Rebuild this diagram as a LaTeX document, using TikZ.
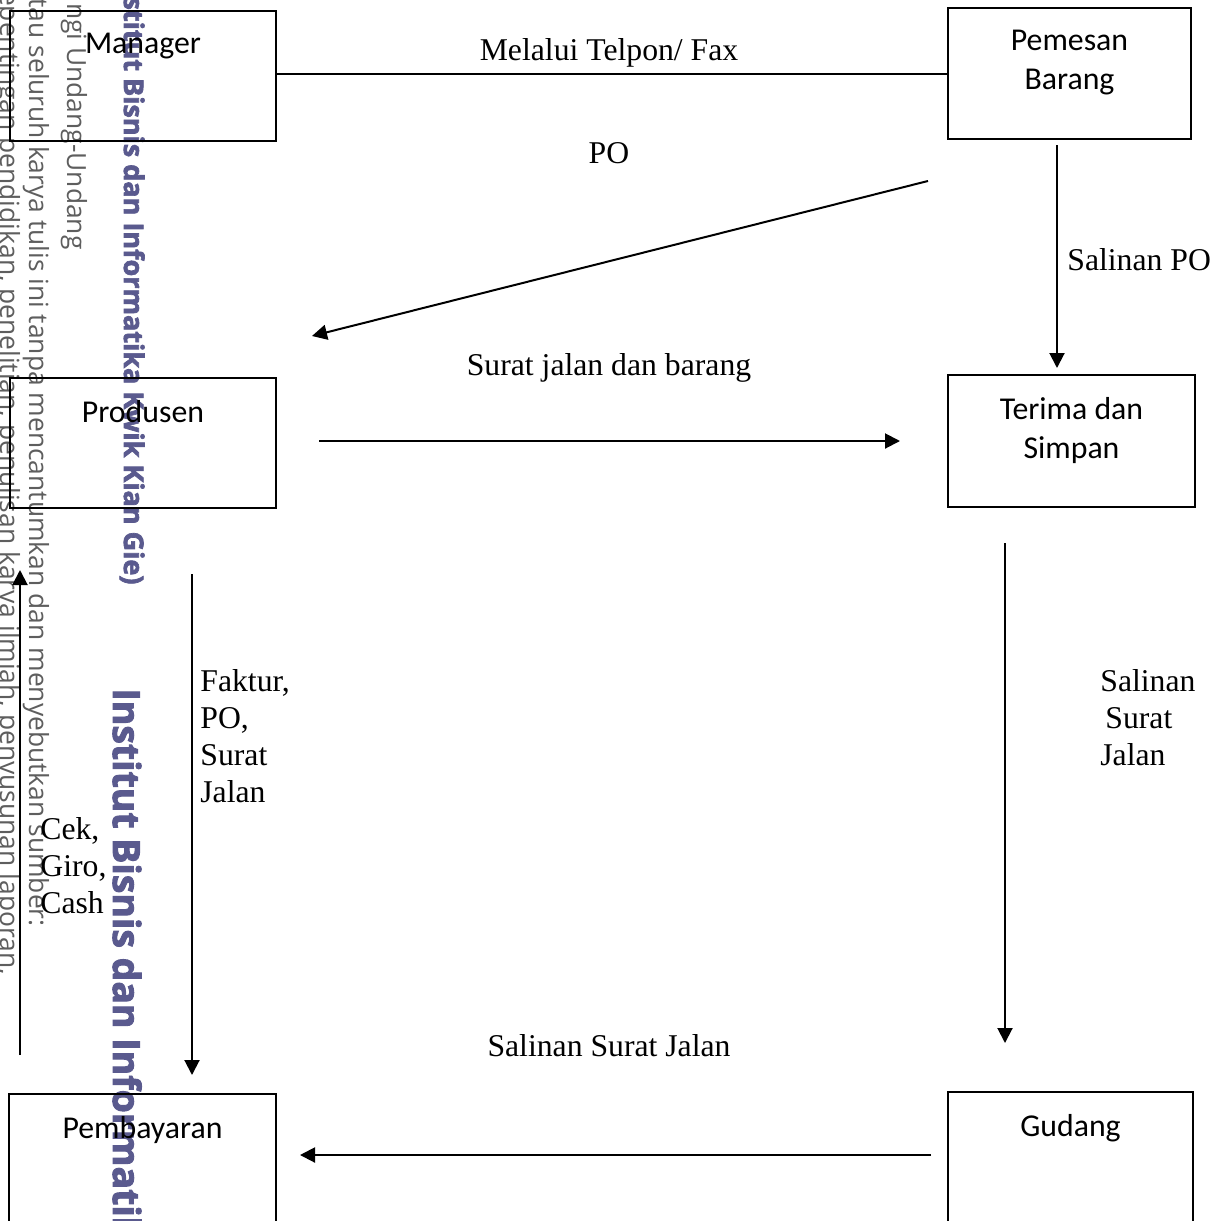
\documentclass[tikz,border=0pt]{standalone}
\usepackage{fontspec}
\setmainfont{Liberation Serif}
\newfontfamily\boxfont{Carlito}
\newfontfamily\wmfont{Open Sans}
\newfontfamily\wmheavy[BoldFeatures={FakeBold=2.5}]{Open Sans}
\usetikzlibrary{arrows.meta}
\definecolor{wmgray}{HTML}{5E5E5E}
\definecolor{wmpurple}{HTML}{5A5A8E}
\begin{document}
\begin{tikzpicture}[x=0.5pt,y=-0.5pt,
  box/.style={draw=black, line width=1pt, rectangle, inner sep=0pt},
  boxtxt/.style={anchor=north, yshift=-11.5pt, inner sep=0pt, align=center, font=\boxfont\fontsize{15.9pt}{19.5pt}\selectfont},
  lbl/.style={inner sep=0pt, font=\fontsize{15.85pt}{18.5pt}\selectfont},
  conn/.style={line width=1pt},
  arr/.style={line width=1pt, -{Triangle[length=7.5pt,width=7.5pt]}},
  wmg/.style={inner sep=0pt, rotate=-90, text=wmgray, font=\wmfont\fontsize{13.2pt}{15pt}\selectfont},
  wmp/.style={inner sep=0pt, rotate=-90, text=wmpurple, font=\wmheavy\bfseries\fontsize{13.5pt}{15pt}\selectfont},
  wmbig/.style={inner sep=0pt, rotate=-90, text=wmpurple, font=\wmheavy\bfseries\fontsize{18.7pt}{22pt}\selectfont}
]
\useasboundingbox (0,0) rectangle (1219,1221);
\clip (0,0) rectangle (1219,1221);
\fill[white] (0,0) rectangle (1219,1221);

% watermark
\node[wmg, anchor=base east] (wm1) at (0,975) {Pengutipan hanya untuk kepentingan pendidikan, penelitian, penulisan karya ilmiah, penyusunan laporan,};
\node[wmg, anchor=base east] (wm2) at (29,927) {Dilarang mengutip sebagian atau seluruh karya tulis ini tanpa mencantumkan dan menyebutkan sumber:};
\node[wmg, anchor=base east] (wm3) at (67,250) {Hak Cipta Dilindungi Undang-Undang};
\node[wmp, anchor=base east] (wm4) at (124,585) {(Institut Bisnis dan Informatika Kwik Kian Gie)};
\node[wmbig, anchor=base west] (wm5) at (113,688) {Institut Bisnis dan Informatika Kwik Kian Gie};

% boxes
\node[box, minimum width=133pt, minimum height=65pt, label={[boxtxt]north:Manager}] (mgr) at (143,76) {};
\node[box, minimum width=121.5pt, minimum height=65.5pt, label={[boxtxt]north:{Pemesan\\Barang}}] (pem) at (1069.5,73.5) {};
\node[box, minimum width=133pt, minimum height=65pt, label={[boxtxt]north:Produsen}] (pro) at (143,443) {};
\node[box, minimum width=123.5pt, minimum height=66pt, label={[boxtxt]north:{Terima dan\\Simpan}}] (ter) at (1071.5,441) {};
\node[box, minimum width=133.5pt, minimum height=83pt, label={[boxtxt]north:Pembayaran}] (pby) at (142.5,1177) {};
\node[box, minimum width=122.5pt, minimum height=84pt, label={[boxtxt]north:Gudang}] (gud) at (1070.5,1176) {};

% connector end points
\coordinate (c1a) at (276,74);
\coordinate (c1b) at (948,74);
\coordinate (c2a) at (928,181);
\coordinate (c2b) at (312,336);
\coordinate (c3a) at (1057,145);
\coordinate (c3b) at (1057,368);
\coordinate (c4a) at (319,441);
\coordinate (c4b) at (900,441);
\coordinate (c5a) at (1005,543);
\coordinate (c5b) at (1005,1043);
\coordinate (c6a) at (931,1155);
\coordinate (c6b) at (300,1155);
\coordinate (c7a) at (192,574);
\coordinate (c7b) at (192,1075);
\coordinate (c8a) at (20,1055);
\coordinate (c8b) at (20,570);

\draw[conn] (c1a) -- (c1b);
\draw[arr] (c2a) -- (c2b);
\draw[arr] (c3a) -- (c3b);
\draw[arr] (c4a) -- (c4b);
\draw[arr] (c5a) -- (c5b);
\draw[arr] (c6a) -- (c6b);
\draw[arr] (c7a) -- (c7b);
\draw[arr] (c8a) -- (c8b);

% labels
\node[lbl, anchor=base] (l1) at (609,60) {Melalui Telpon/ Fax};
\node[lbl, anchor=base] (l2) at (609,163) {PO};
\node[lbl, anchor=base west] (l3) at (1067,270) {Salinan PO};
\node[lbl, anchor=base] (l4) at (609,375) {Surat jalan dan barang};
\node[lbl, anchor=base] (l5) at (609,1056) {Salinan Surat Jalan};
\node[lbl, anchor=north west, align=left] (l6) at (200,669) {Faktur,\\PO,\\Surat\\Jalan};
\node[lbl, anchor=north west, align=left] (l7) at (1100,669) {Salinan\\\hspace{2.5pt}Surat\\Jalan};
\node[lbl, anchor=north west, align=left] (l8) at (40,817) {Cek,\\Giro,\\Cash};
\end{tikzpicture}
\end{document}
